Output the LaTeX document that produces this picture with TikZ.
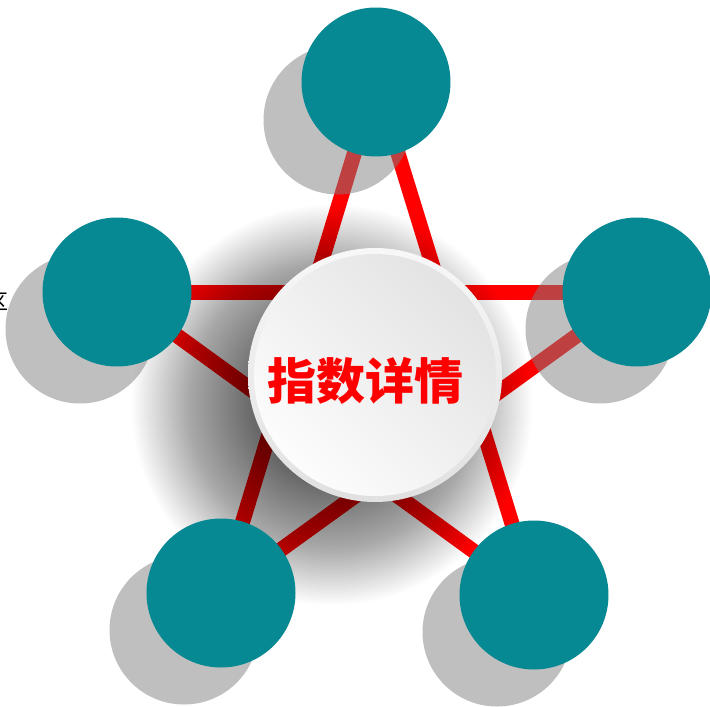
\documentclass[tikz,border=0pt]{standalone}
\usepackage{fontspec}
\newfontfamily\cjk{Noto Sans CJK SC}
\definecolor{teal1}{RGB}{6,137,146}
\definecolor{starred}{RGB}{255,0,0}
\begin{document}
\begin{tikzpicture}[x=1pt,y=-1pt,
  ball/.style={circle, fill=teal1, minimum size=149pt, inner sep=0pt},
  ballshadow/.style={circle, fill=gray, fill opacity=0.5, minimum size=149pt, inner sep=0pt},
  starline/.style={draw=starred, line width=15pt},
  softring/.style={fill=black, fill opacity=0.012}]
\useasboundingbox (0,0) rectangle (710,707);
\fill[white] (0,0) rectangle (710,707);
% partial text at left edge
\node[anchor=east, inner sep=0pt, font=\cjk\fontsize{21}{21}\selectfont] (edge) at (9,302) {区};
% circle centres
\coordinate (T) at (376,82);
\coordinate (L) at (117,292);
\coordinate (R) at (637,292);
\coordinate (BL) at (221,593);
\coordinate (BR) at (534,595);
\coordinate (C) at (375,375);
\coordinate (S) at (332,405);
% star lines
\draw[starline] (T) -- (BL);
\draw[starline] (T) -- (BR);
\draw[starline] (L) -- (R);
\draw[starline] (L) -- (BR);
\draw[starline] (R) -- (BL);
% soft shadow of centre disc
\foreach \r in {200,198,...,80} { \fill[softring] (S) circle (\r); }
% shadows of teal circles
\node[ballshadow] (Ts) at (338,120) {};
\node[ballshadow] (Ls) at (80,329) {};
\node[ballshadow] (Rs) at (600,329) {};
\node[ballshadow] (BLs) at (184,630) {};
\node[ballshadow] (BRs) at (497,632) {};
% teal circles
\node[ball] (Tn) at (T) {};
\node[ball] (Ln) at (L) {};
\node[ball] (Rn) at (R) {};
\node[ball] (BLn) at (BL) {};
\node[ball] (BRn) at (BR) {};
% centre disc
\shade[top color=gray!6, bottom color=gray!24] (C) circle (127);
\shade[top color=gray!22, bottom color=gray!2, shading angle=-45] (C) circle (121);
\node[text=starred, font=\cjk\bfseries\fontsize{49}{49}\selectfont, inner sep=0pt] (title) at (365,381) {指数详情};
\end{tikzpicture}
\end{document}
